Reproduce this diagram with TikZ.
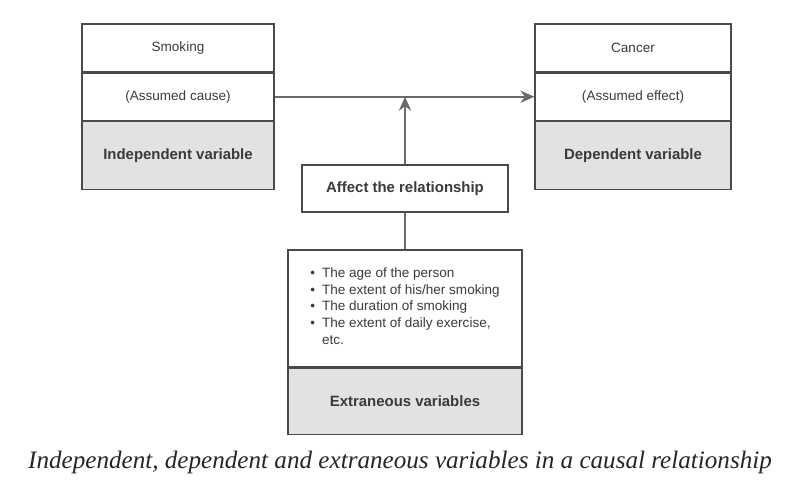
\documentclass[tikz,border=0pt]{standalone}
\usepackage{fontspec}
\setmainfont{Liberation Serif}
\setsansfont{Liberation Sans}
\usepackage{xcolor}
\usetikzlibrary{arrows.meta, positioning}
\definecolor{boxline}{HTML}{4A4A4A}
\definecolor{boxgray}{HTML}{E2E2E2}
\definecolor{txtgray}{HTML}{3A3A3A}
\definecolor{arrgray}{HTML}{6A6A6A}

\begin{document}
\begin{tikzpicture}
		\tikzset{cell/.style = {shape=rectangle, draw=boxline, line width=0.7pt, inner sep=0pt, text=txtgray, font=\sffamily\fontsize{7.7}{9.6}\selectfont}}
		\tikzset{label/.style = {cell, fill=boxgray, font=\sffamily\bfseries\fontsize{8.5}{10}\selectfont}}
		\tikzset{edge/.style = {draw=arrgray, line width=1.1pt, -{Stealth[length=8pt,width=7pt]}}}
		\tikzset{link/.style = {draw=arrgray, line width=1.1pt}}

		\useasboundingbox (0,0) rectangle (16,-9.8);

		% cause side
		\node[cell, minimum width=3.84cm, minimum height=0.96cm] (smoking) at (3.56,-0.96) {Smoking};
		\node[cell, minimum width=3.84cm, minimum height=0.94cm, below=0pt of smoking] (cause) {(Assumed cause)};
		\node[label, minimum width=3.84cm, minimum height=1.36cm, below=0pt of cause] (indep) {Independent variable};

		% effect side
		\node[cell, minimum width=3.92cm, minimum height=0.96cm] (cancer) at (12.66,-0.96) {Cancer};
		\node[cell, minimum width=3.92cm, minimum height=0.94cm, below=0pt of cancer] (effect) {(Assumed effect)};
		\node[label, minimum width=3.92cm, minimum height=1.36cm, below=0pt of effect] (dep) {Dependent variable};

		% middle
		\node[cell, minimum width=4.12cm, minimum height=0.94cm, font=\sffamily\bfseries\fontsize{8.5}{10}\selectfont] (affect) at (8.1,-3.77) {Affect the relationship};
		\node[cell, minimum width=4.68cm, minimum height=2.34cm] (extra) at (8.1,-6.17) {};
		\node[label, minimum width=4.68cm, minimum height=1.32cm, below=0pt of extra] (extlabel) {Extraneous variables};
		\node[anchor=north west, inner sep=0pt, text=txtgray, font=\sffamily\fontsize{7.7}{9.6}\selectfont] (items) at (6.2,-5.3) {%
			\begin{tabular}{@{}l@{\hspace{4pt}}l@{}}
			\textbullet & The age of the person\\
			\textbullet & The extent of his/her smoking\\
			\textbullet & The duration of smoking\\
			\textbullet & The extent of daily exercise,\\
			 & etc.
			\end{tabular}};

		\coordinate (meet) at (affect.north |- cause.east);

		\draw[edge] (cause.east) to (effect.west);
		\draw[edge] (affect.north) to (meet);
		\draw[link] (extra.north) to (affect.south);

		\node[font=\rmfamily\itshape\fontsize{14.3}{17}\selectfont, text=black!85] (caption) at (8.0,-9.24) {Independent, dependent and extraneous variables in a causal relationship};
	\end{tikzpicture}
\end{document}
